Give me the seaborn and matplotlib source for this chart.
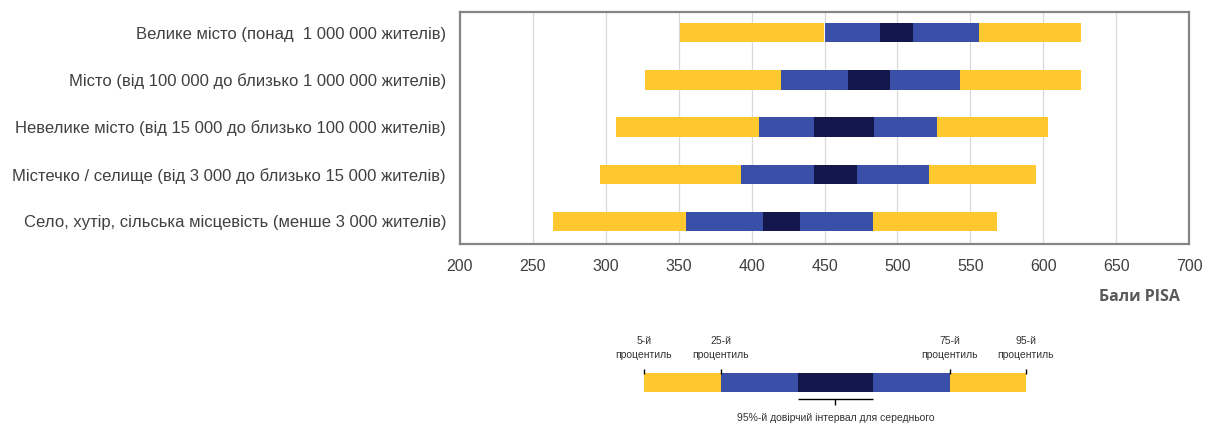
import matplotlib
matplotlib.use("Agg")
import matplotlib.pyplot as plt
import seaborn as sns
import numpy as np
import pandas as pd

# ---------------- data ----------------
categories = [
    "Велике місто (понад  1 000 000 жителів)",
    "Місто (від 100 000 до близько 1 000 000 жителів)",
    "Невелике місто (від 15 000 до близько 100 000 жителів)",
    "Містечко / селище (від 3 000 до близько 15 000 жителів)",
    "Село, хутір, сільська місцевість (менше 3 000 жителів)",
]
p5 = [351, 327, 307, 296, 264]
p25 = [450, 420, 405, 393, 355]
ci_low = [488, 466, 443, 443, 408]
ci_high = [511, 495, 484, 472, 433]
p75 = [556, 543, 527, 522, 483]
p95 = [626, 626, 603, 595, 568]

x_ticks = [200, 250, 300, 350, 400, 450, 500, 550, 600, 650, 700]
x_label = "Бали PISA"

legend_values = [326, 379, 432, 483, 536, 588]
legend_labels = ["5-й\nпроцентиль", "25-й\nпроцентиль", "75-й\nпроцентиль", "95-й\nпроцентиль"]
legend_ci_label = "95%-й довірчий інтервал для середнього"

# ---------------- style ----------------
YELLOW = "#FEC82E"
BLUE = "#3A50A8"
DARK = "#14174C"
TXT = "#404040"

sns.set_theme(style="white")
plt.rcParams["font.family"] = ["Liberation Sans", "DejaVu Sans"]

df = pd.DataFrame({"cat": categories, "p5": p5, "p25": p25, "lo": ci_low,
                   "hi": ci_high, "p75": p75, "p95": p95})

fig = plt.figure(figsize=(12.11, 4.28), dpi=100)
ax = fig.add_axes([460 / 1211, 1 - 244 / 428, (1189 - 460) / 1211, (244 - 12) / 428])

ypos = np.arange(len(df))
bar_h = 0.41
segments = [("p5", "p25", YELLOW), ("p25", "lo", BLUE), ("lo", "hi", DARK),
            ("hi", "p75", BLUE), ("p75", "p95", YELLOW)]
for a, b, c in segments:
    ax.barh(ypos, df[b] - df[a], left=df[a], height=bar_h, color=c,
            edgecolor="none", zorder=3)

ax.set_xlim(200, 700)
ax.set_ylim(4.48, -0.44)
ax.set_xticks(x_ticks)
ax.set_xticklabels([str(t) for t in x_ticks], fontsize=11.5, color=TXT)
ax.set_yticks(ypos)
ax.set_yticklabels(df["cat"], fontsize=12, color=TXT)
ax.tick_params(axis="both", length=0)
ax.tick_params(axis="y", pad=10)
ax.tick_params(axis="x", pad=11)
ax.grid(axis="x", color="#d9d9d9", linewidth=0.9, zorder=0)
ax.grid(axis="y", visible=False)
for s in ax.spines.values():
    s.set_visible(True)
    s.set_color("#858585")
    s.set_linewidth(1.6)

fig.text(1139 / 1211, 1 - 297 / 428, x_label, ha="center", va="center",
         fontsize=11.5, fontweight="bold", color="#595959",
         family=["Open Sans", "DejaVu Sans"])

# ---------------- legend schematic ----------------
lax = fig.add_axes([460 / 1211, 0, (1189 - 460) / 1211, 98 / 428])
lax.set_xlim(200, 700)
lax.set_ylim(98, 0)
lax.axis("off")

leg_colors = [YELLOW, BLUE, DARK, BLUE, YELLOW]
for i, c in enumerate(leg_colors):
    lax.barh([52.5], [legend_values[i + 1] - legend_values[i]], left=legend_values[i],
             height=19, color=c, edgecolor="none")

tick_vals = [legend_values[0], legend_values[1], legend_values[4], legend_values[5]]
for v, lab in zip(tick_vals, legend_labels):
    lax.vlines(v, 39, 44, color="black", linewidth=1)
    lax.text(v, 18, lab, ha="center", va="center", fontsize=7.5, color="#333333",
             linespacing=1.5)

mid = (legend_values[2] + legend_values[3]) / 2
lax.hlines(69, legend_values[2], legend_values[3], color="black", linewidth=1)
lax.vlines(mid, 69, 75, color="black", linewidth=1)
lax.text(mid, 88, legend_ci_label, ha="center", va="center", fontsize=7.5, color="#333333")

fig.savefig("out.png", dpi=100)
